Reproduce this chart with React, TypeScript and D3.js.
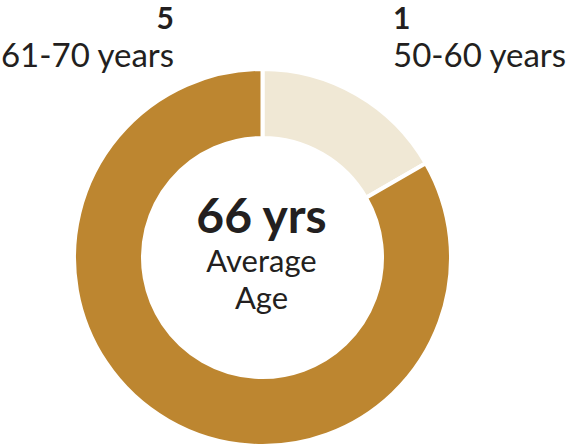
import React from "react";
import * as d3 from "d3";

const ageGroups = ["50-60 years", "61-70 years"];
const counts = [1, 5];
const sliceColors = ["#F0E8D5", "#BD8630"];
const centerValue = "66 yrs";
const centerLabel = ["Average", "Age"];

const width = 567;
const height = 448;
const cx = 262.5;
const cy = 257.5;
const outerR = 188.5;
const innerR = 119.5;
const textColor = "#231F20";
const font = "Lato, 'Noto Sans', sans-serif";

// label placement: first group sits right of the top, second left of it
const labelPos = [
  { x: 393, anchor: "start" },
  { x: 174, anchor: "end" },
];

const App = () => {
  const pie = d3
    .pie<number>()
    .sort(null)
    .value((d) => d);
  const arcs = pie(counts);
  const arc = d3.arc<d3.PieArcDatum<number>>().innerRadius(innerR).outerRadius(outerR);

  return (
    <svg
      width={width}
      height={height}
      style={{ position: "absolute", left: 0, top: 0, background: "#fff" }}
      fontFamily={font}
    >
      <g transform={`translate(${cx},${cy})`}>
        {arcs.map((a, i) => (
          <path key={i} d={arc(a) || ""} fill={sliceColors[i]} stroke="#fff" strokeWidth={4} />
        ))}
      </g>

      {ageGroups.map((g, i) => (
        <g key={g} fill={textColor} textAnchor={labelPos[i].anchor}>
          <text x={labelPos[i].x} y={29} fontSize={30} fontWeight={700}>
            {counts[i]}
          </text>
          <text x={labelPos[i].x} y={67} fontSize={33}>
            {g}
          </text>
        </g>
      ))}

      <g fill={textColor} textAnchor="middle">
        <text x={cx - 1} y={233} fontSize={48} fontWeight={700}>
          {centerValue}
        </text>
        {centerLabel.map((t, i) => (
          <text key={t} x={cx - 1} y={272 + i * 37} fontSize={31}>
            {t}
          </text>
        ))}
      </g>
    </svg>
  );
};

export default App;
